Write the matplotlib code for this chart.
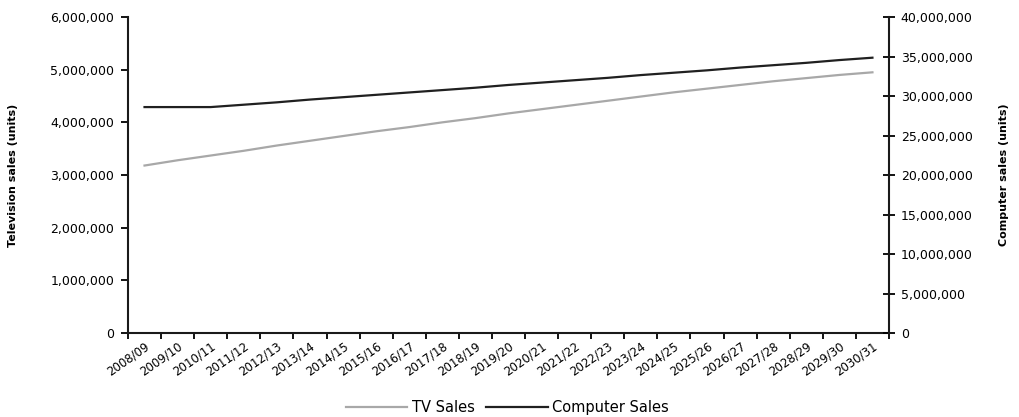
import numpy as np
import matplotlib
matplotlib.use("Agg")
import matplotlib.pyplot as plt
import matplotlib.ticker as ticker

# financial years
years = ['2008/09', '2009/10', '2010/11', '2011/12', '2012/13', '2013/14',
         '2014/15', '2015/16', '2016/17', '2017/18', '2018/19', '2019/20',
         '2020/21', '2021/22', '2022/23', '2023/24', '2024/25', '2025/26',
         '2026/27', '2027/28', '2028/29', '2029/30', '2030/31']

# TV sales (units), left axis
tv_sales = [3180000, 3280000, 3370000, 3460000, 3560000, 3650000, 3740000,
            3830000, 3910000, 4000000, 4080000, 4170000, 4250000, 4330000,
            4410000, 4490000, 4570000, 4640000, 4710000, 4780000, 4840000,
            4900000, 4950000]

# computer sales (units), right axis
pc_sales = [28600000, 28600000, 28600000, 28900000, 29200000, 29550000,
            29850000, 30150000, 30450000, 30750000, 31050000, 31400000,
            31700000, 32000000, 32300000, 32650000, 32950000, 33250000,
            33600000, 33900000, 34200000, 34550000, 34850000]

plt.rcParams['font.family'] = ['DejaVu Sans']

fig = plt.figure(figsize=(10.19, 4.17), dpi=100)
ax = fig.add_axes([0.1256, 0.2014, 0.7468, 0.7578])
ax2 = ax.twinx()

x = np.arange(len(years))
l1, = ax.plot(x, tv_sales, color='#a8a8a8', lw=1.6, label='TV Sales')
l2, = ax2.plot(x, pc_sales, color='#202020', lw=1.6, label='Computer Sales')

ax.set_xlim(-0.5, len(years) - 0.5)
ax.set_ylim(0, 6000000)
ax2.set_ylim(0, 40000000)

fmt = ticker.FuncFormatter(lambda v, p: '{:,.0f}'.format(v))
ax.yaxis.set_major_locator(ticker.MultipleLocator(1000000))
ax.yaxis.set_major_formatter(fmt)
ax2.yaxis.set_major_locator(ticker.MultipleLocator(5000000))
ax2.yaxis.set_major_formatter(fmt)

# ticks between categories, labels on the categories
ax.set_xticks(np.arange(len(years) + 1) - 0.5)
ax.set_xticklabels([])
ax.set_xticks(x, minor=True)
ax.set_xticklabels(years, minor=True, rotation=35, ha='right',
                   rotation_mode='anchor', fontsize=8.5)
ax.tick_params(axis='x', which='minor', length=0, pad=5)
ax.tick_params(axis='x', which='major', length=4, width=1.3, direction='out')

ax.tick_params(axis='y', length=5, width=1.3, labelsize=9, pad=5)
ax2.tick_params(axis='y', length=9, width=1.3, direction='inout',
                labelsize=9, pad=4)

for a in (ax, ax2):
    a.spines['top'].set_visible(False)
    for s in ('left', 'bottom', 'right'):
        a.spines[s].set_linewidth(1.5)
        a.spines[s].set_color('#1a1a1a')
ax.spines['right'].set_visible(False)
ax2.spines['left'].set_visible(False)
ax2.spines['bottom'].set_visible(False)

ax.set_ylabel('Television sales (units)', fontsize=8, fontweight='bold')
ax.yaxis.set_label_coords(-0.145, 0.5)
ax2.set_ylabel('Computer sales (units)', fontsize=8, fontweight='bold')
ax2.yaxis.set_label_coords(1.144, 0.5)

fig.legend(handles=[l1, l2], loc='center', bbox_to_anchor=(0.498, 0.022),
           ncol=2, frameon=False, fontsize=10.5, handlelength=4.2,
           handletextpad=0.3, columnspacing=0.8)

fig.savefig('out.png', dpi=100)
